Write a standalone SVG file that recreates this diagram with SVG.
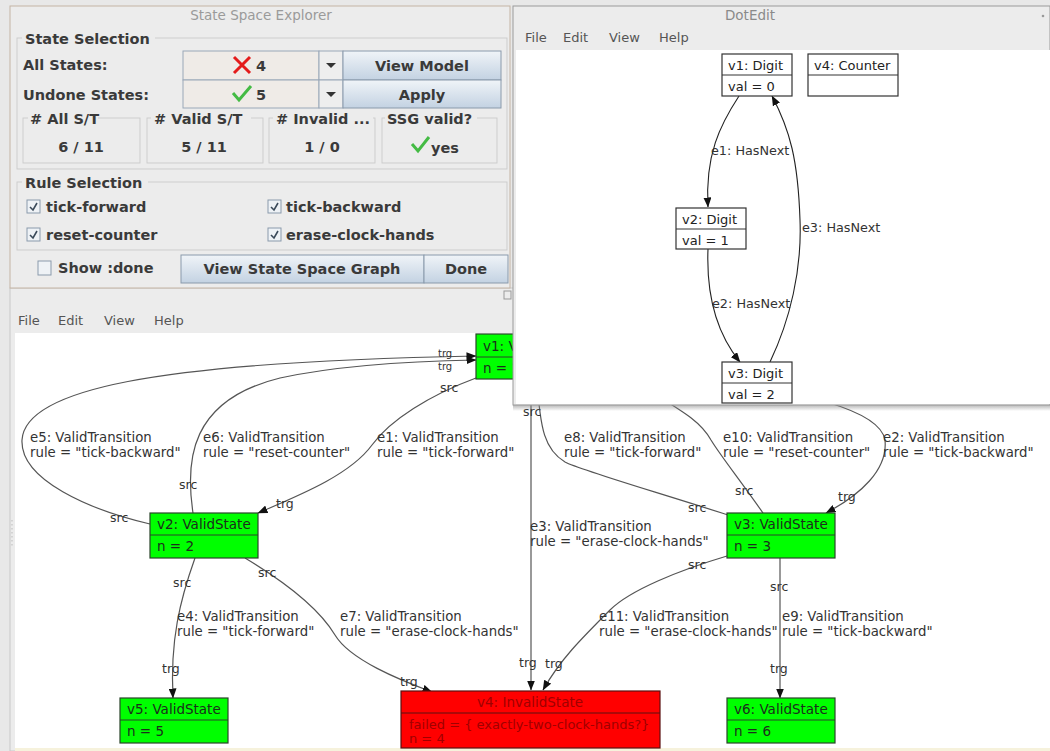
<svg xmlns="http://www.w3.org/2000/svg" width="1050" height="751" viewBox="0 0 1050 751">
<defs>
<linearGradient id="btn" x1="0" y1="0" x2="0" y2="1"><stop offset="0" stop-color="#f0f4f8"/><stop offset="1" stop-color="#c3d2e2"/></linearGradient>
<linearGradient id="shd" x1="0" y1="0" x2="0" y2="1"><stop offset="0" stop-color="#888" stop-opacity="0.7"/><stop offset="1" stop-color="#888" stop-opacity="0"/></linearGradient>
<marker id="ah" markerWidth="10" markerHeight="8" refX="9.5" refY="4" orient="auto" markerUnits="userSpaceOnUse"><path d="M0,0 L10,4 L0,8 z" fill="#111"/></marker>
</defs>
<style>
.ui{font-family:"DejaVu Sans","Liberation Sans",sans-serif}
.b{font-family:"DejaVu Sans","Liberation Sans",sans-serif;font-weight:bold;font-size:14.5px;fill:#3a3a3a}
.menu{font-family:"DejaVu Sans","Liberation Sans",sans-serif;font-size:13px;fill:#555}
.lbl{font-family:"DejaVu Sans","Liberation Sans",sans-serif;font-size:13.3px;fill:#333}
.dl{font-family:"DejaVu Sans","Liberation Sans",sans-serif;font-size:12.8px;fill:#333}
.st{font-family:"DejaVu Sans","Liberation Sans",sans-serif;font-size:12.5px;fill:#333}
.edge{fill:none;stroke:#555;stroke-width:1.2}
.dedge{fill:none;stroke:#222;stroke-width:1.1}
.grp{fill:none;stroke:#cdcdcd}
.vs{fill:#00ff00;stroke:#2a452a;stroke-width:1.2}
.ntxt{font-family:"DejaVu Sans","Liberation Sans",sans-serif;font-size:13.5px;fill:#1c2e1c}
.dn{fill:#fff;stroke:#333;stroke-width:1.2}
.dtxt{font-family:"DejaVu Sans","Liberation Sans",sans-serif;font-size:13px;fill:#222}
.cb{fill:#eef2f6;stroke:#8a9aab}
.ck{fill:none;stroke:#3a4a5a;stroke-width:1.6}
</style>

<rect x="0" y="0" width="1050" height="751" fill="#e8e8e8"/>

<!-- bottom graph window -->
<g id="graph-window">
<rect x="10" y="288" width="1040" height="463" fill="#ececec" stroke="#c8c8c8"/>
<rect x="504" y="291" width="7" height="8" fill="none" stroke="#999"/>
<text class="menu" x="18" y="325">File</text>
<text class="menu" x="58" y="325">Edit</text>
<text class="menu" x="104" y="325">View</text>
<text class="menu" x="154" y="325">Help</text>
<rect x="15" y="333" width="1035" height="415" fill="#fff"/>
<rect x="15" y="748" width="1035" height="3" fill="#f6f2dc"/>
<path d="M12,520 v26" stroke="#bbb" stroke-dasharray="1.5,2.5"/>
</g>

<g id="connectors">
<path class="edge" marker-end="url(#ah)" d="M150,524 C 90,510 20,480 22,440 C 25,390 150,362 476,356"/>
<path class="edge" marker-end="url(#ah)" d="M193,513 C 185,460 190,400 280,378 C 340,365 420,361 476,360"/>
<path class="edge" marker-end="url(#ah)" d="M476,378 C 430,395 390,420 372,445 C 350,475 300,495 258,513"/>
<path class="edge" marker-end="url(#ah)" d="M531,379 L531,690"/>
<path class="edge" d="M728,515 C 650,490 580,470 565,462 C 545,450 540,430 537,379"/>
<path class="edge" d="M763,513 C 740,480 720,455 711,440 C 700,420 680,410 640,385"/>
<path class="edge" marker-end="url(#ah)" d="M700,380 C 800,390 880,410 885,440 C 888,470 860,495 826,513"/>
<path class="edge" marker-end="url(#ah)" d="M195,558 C 180,600 170,640 173,698"/>
<path class="edge" marker-end="url(#ah)" d="M245,558 C 290,585 320,610 335,635 C 350,660 400,680 432,692"/>
<path class="edge" marker-end="url(#ah)" d="M727,556 C 680,570 630,590 610,610 C 580,640 560,660 543,690"/>
<path class="edge" marker-end="url(#ah)" d="M780,558 L780,698"/>

<text class="st" x="438" y="357" style="font-size:10px">trg</text>
<text class="st" x="438" y="370" style="font-size:10px">trg</text>
<text class="st" x="440" y="392">src</text>
<text class="st" x="110" y="522">src</text>
<text class="st" x="179" y="489">src</text>
<text class="st" x="276" y="508">trg</text>
<text class="st" x="523" y="416">src</text>
<text class="st" x="688" y="512">src</text>
<text class="st" x="735" y="495">src</text>
<text class="st" x="838" y="501">trg</text>
<text class="st" x="173" y="587">src</text>
<text class="st" x="258" y="577">src</text>
<text class="st" x="162" y="673">trg</text>
<text class="st" x="400" y="686">trg</text>
<text class="st" x="519" y="667">trg</text>
<text class="st" x="545" y="668">trg</text>
<text class="st" x="688" y="569">src</text>
<text class="st" x="770" y="591">src</text>
<text class="st" x="770" y="673">trg</text>

<text class="lbl" x="30" y="442">e5: ValidTransition</text>
<text class="lbl" x="30" y="457">rule = "tick-backward"</text>
<text class="lbl" x="203" y="442">e6: ValidTransition</text>
<text class="lbl" x="203" y="457">rule = "reset-counter"</text>
<text class="lbl" x="377" y="442">e1: ValidTransition</text>
<text class="lbl" x="377" y="457">rule = "tick-forward"</text>
<text class="lbl" x="564" y="442">e8: ValidTransition</text>
<text class="lbl" x="564" y="457">rule = "tick-forward"</text>
<text class="lbl" x="723" y="442">e10: ValidTransition</text>
<text class="lbl" x="723" y="457">rule = "reset-counter"</text>
<text class="lbl" x="883" y="442">e2: ValidTransition</text>
<text class="lbl" x="883" y="457">rule = "tick-backward"</text>
<text class="lbl" x="530" y="531">e3: ValidTransition</text>
<text class="lbl" x="530" y="546">rule = "erase-clock-hands"</text>
<text class="lbl" x="177" y="621">e4: ValidTransition</text>
<text class="lbl" x="177" y="636">rule = "tick-forward"</text>
<text class="lbl" x="340" y="621">e7: ValidTransition</text>
<text class="lbl" x="340" y="636">rule = "erase-clock-hands"</text>
<text class="lbl" x="599" y="621">e11: ValidTransition</text>
<text class="lbl" x="599" y="636">rule = "erase-clock-hands"</text>
<text class="lbl" x="782" y="621">e9: ValidTransition</text>
<text class="lbl" x="782" y="636">rule = "tick-backward"</text>
</g>

<g id="v1">
<rect class="vs" x="476" y="334" width="108" height="45"/>
<line x1="476" y1="357" x2="584" y2="357" stroke="#2a452a"/>
<text class="ntxt" x="483" y="351">v1: ValidState</text>
<text class="ntxt" x="483" y="373">n = 1</text>
</g>
<g id="v2">
<rect class="vs" x="150" y="513" width="108" height="45"/>
<line x1="150" y1="535" x2="258" y2="535" stroke="#2a452a"/>
<text class="ntxt" x="157" y="529">v2: ValidState</text>
<text class="ntxt" x="157" y="551">n = 2</text>
</g>
<g id="v3">
<rect class="vs" x="727" y="513" width="108" height="45"/>
<line x1="727" y1="535" x2="835" y2="535" stroke="#2a452a"/>
<text class="ntxt" x="734" y="529">v3: ValidState</text>
<text class="ntxt" x="734" y="551">n = 3</text>
</g>
<g id="v5">
<rect class="vs" x="120" y="698" width="108" height="45"/>
<line x1="120" y1="720" x2="228" y2="720" stroke="#2a452a"/>
<text class="ntxt" x="127" y="714">v5: ValidState</text>
<text class="ntxt" x="127" y="736">n = 5</text>
</g>
<g id="v6">
<rect class="vs" x="727" y="698" width="108" height="45"/>
<line x1="727" y1="720" x2="835" y2="720" stroke="#2a452a"/>
<text class="ntxt" x="734" y="714">v6: ValidState</text>
<text class="ntxt" x="734" y="736">n = 6</text>
</g>
<g id="v4">
<rect x="401" y="691" width="259" height="57" fill="#ff0000" stroke="#5a1010" stroke-width="1.2"/>
<line x1="401" y1="713" x2="660" y2="713" stroke="#5a1010"/>
<text class="ntxt" x="530" y="707" text-anchor="middle" style="fill:#a00000">v4: InvalidState</text>
<text class="ntxt" x="409" y="729" style="fill:#a00000;font-size:13px">failed = { exactly-two-clock-hands?}</text>
<text class="ntxt" x="409" y="743" style="fill:#a00000;font-size:13px">n = 4</text>
</g>

<!-- State Space Explorer panel -->
<g id="state-space-explorer">
<rect x="10" y="6" width="500" height="282" fill="#ececec" stroke="#c4b4a4"/>
<text class="ui" x="261" y="20" text-anchor="middle" font-size="13.5" fill="#9a9a9a">State Space Explorer</text>

<rect class="grp" x="17" y="38" width="490" height="131"/>
<rect x="22" y="30" width="133" height="16" fill="#ececec"/>
<text class="b" x="25" y="44">State Selection</text>
<text class="b" x="23" y="70">All States:</text>
<text class="b" x="23" y="100">Undone States:</text>

<rect x="183" y="51" width="136" height="29" fill="#efebe7" stroke="#9aa8b8"/>
<rect x="319" y="51" width="24" height="29" fill="#eeeeee" stroke="#9aa8b8"/>
<rect x="343" y="51" width="158" height="29" fill="url(#btn)" stroke="#8a9aab"/>
<rect x="183" y="80" width="136" height="28" fill="#efebe7" stroke="#9aa8b8"/>
<rect x="319" y="80" width="24" height="28" fill="#eeeeee" stroke="#9aa8b8"/>
<rect x="343" y="80" width="158" height="28" fill="url(#btn)" stroke="#8a9aab"/>
<path d="M234,57 L250,73 M250,57 L234,73" stroke="#e41b1b" stroke-width="3"/>
<text class="b" x="256" y="71">4</text>
<path d="M233,93 L239,100 L251,86" fill="none" stroke="#44bb44" stroke-width="3"/>
<text class="b" x="256" y="100">5</text>
<path d="M326,63 L336,63 L331,68 z" fill="#333"/>
<path d="M326,92 L336,92 L331,97 z" fill="#333"/>
<text class="b" x="422" y="71" text-anchor="middle">View Model</text>
<text class="b" x="422" y="100" text-anchor="middle">Apply</text>

<rect class="grp" x="23" y="118" width="117" height="45"/>
<rect x="28" y="112" width="70" height="14" fill="#ececec"/>
<text class="b" x="30" y="124">#  All S/T</text>
<text class="b" x="81" y="152" text-anchor="middle">6  /  11</text>
<rect class="grp" x="147" y="118" width="116" height="45"/>
<rect x="151" y="112" width="100" height="14" fill="#ececec"/>
<text class="b" x="154" y="124"># Valid S/T</text>
<text class="b" x="204" y="152" text-anchor="middle">5  /  11</text>
<rect class="grp" x="269" y="118" width="106" height="45"/>
<rect x="273" y="112" width="100" height="14" fill="#ececec"/>
<text class="b" x="276" y="124"># Invalid ...</text>
<text class="b" x="322" y="152" text-anchor="middle">1  /  0</text>
<rect class="grp" x="382" y="118" width="115" height="45"/>
<rect x="385" y="112" width="92" height="14" fill="#ececec"/>
<text class="b" x="387" y="124">SSG valid?</text>
<path d="M412,144 L418,151 L429,137" fill="none" stroke="#44bb44" stroke-width="3"/>
<text class="b" x="431" y="153">yes</text>

<rect class="grp" x="17" y="182" width="490" height="68"/>
<rect x="22" y="174" width="126" height="16" fill="#ececec"/>
<text class="b" x="25" y="188">Rule Selection</text>
<rect class="cb" x="27" y="200" width="13" height="13"/>
<path class="ck" d="M30,207 L33,210 L37,203"/>
<text class="b" x="46" y="212">tick-forward</text>
<rect class="cb" x="268" y="200" width="13" height="13"/>
<path class="ck" d="M271,207 L274,210 L278,203"/>
<text class="b" x="286" y="212">tick-backward</text>
<rect class="cb" x="27" y="228" width="13" height="13"/>
<path class="ck" d="M30,235 L33,238 L37,231"/>
<text class="b" x="46" y="240">reset-counter</text>
<rect class="cb" x="268" y="228" width="13" height="13"/>
<path class="ck" d="M271,235 L274,238 L278,231"/>
<text class="b" x="286" y="240">erase-clock-hands</text>

<rect class="cb" x="38" y="261" width="13" height="14"/>
<text class="b" x="58" y="273">Show :done</text>
<rect x="181" y="255" width="243" height="28" fill="url(#btn)" stroke="#8a9aab"/>
<text class="b" x="302" y="274" text-anchor="middle">View State Space Graph</text>
<rect x="424" y="255" width="84" height="28" fill="url(#btn)" stroke="#8a9aab"/>
<text class="b" x="466" y="274" text-anchor="middle">Done</text>
</g>

<!-- DotEdit window -->
<g id="dotedit-window">
<rect x="513" y="404" width="537" height="7" fill="url(#shd)"/>
<rect x="513" y="6" width="537" height="399" fill="#ececec" stroke="#9a9a9a"/>
<text class="ui" x="750" y="20" text-anchor="middle" font-size="13.5" fill="#8a8a8a">DotEdit</text>
<circle cx="1043" cy="16" r="1.3" fill="#999"/>
<text class="menu" x="525" y="42">File</text>
<text class="menu" x="563" y="42">Edit</text>
<text class="menu" x="609" y="42">View</text>
<text class="menu" x="659" y="42">Help</text>
<rect x="516" y="50" width="534" height="354" fill="#fff"/>
</g>

<g id="dotedit-connectors">
<path class="dedge" marker-end="url(#ah)" d="M739,96 C 720,125 705,155 708,207"/>
<path class="dedge" marker-end="url(#ah)" d="M708,249 C 706,300 718,335 740,362"/>
<path class="dedge" marker-end="url(#ah)" d="M770,362 C 790,320 802,270 800,220 C 798,160 790,130 772,96"/>
<text class="dl" x="711" y="155">e1: HasNext</text>
<text class="dl" x="712" y="308">e2: HasNext</text>
<text class="dl" x="802" y="232">e3: HasNext</text>
</g>

<g id="d-v1">
<rect class="dn" x="722" y="54" width="70" height="42"/>
<line x1="722" y1="75" x2="792" y2="75" stroke="#333"/>
<text class="dtxt" x="728" y="70">v1: Digit</text>
<text class="dtxt" x="728" y="91">val = 0</text>
</g>
<g id="d-v4">
<rect class="dn" x="808" y="54" width="90" height="42"/>
<line x1="808" y1="75" x2="898" y2="75" stroke="#333"/>
<text class="dtxt" x="814" y="70">v4: Counter</text>
</g>
<g id="d-v2">
<rect class="dn" x="676" y="208" width="70" height="41"/>
<line x1="676" y1="229" x2="746" y2="229" stroke="#333"/>
<text class="dtxt" x="682" y="224">v2: Digit</text>
<text class="dtxt" x="682" y="245">val = 1</text>
</g>
<g id="d-v3">
<rect class="dn" x="722" y="362" width="70" height="41"/>
<line x1="722" y1="383" x2="792" y2="383" stroke="#333"/>
<text class="dtxt" x="728" y="378">v3: Digit</text>
<text class="dtxt" x="728" y="399">val = 2</text>
</g>
</svg>
